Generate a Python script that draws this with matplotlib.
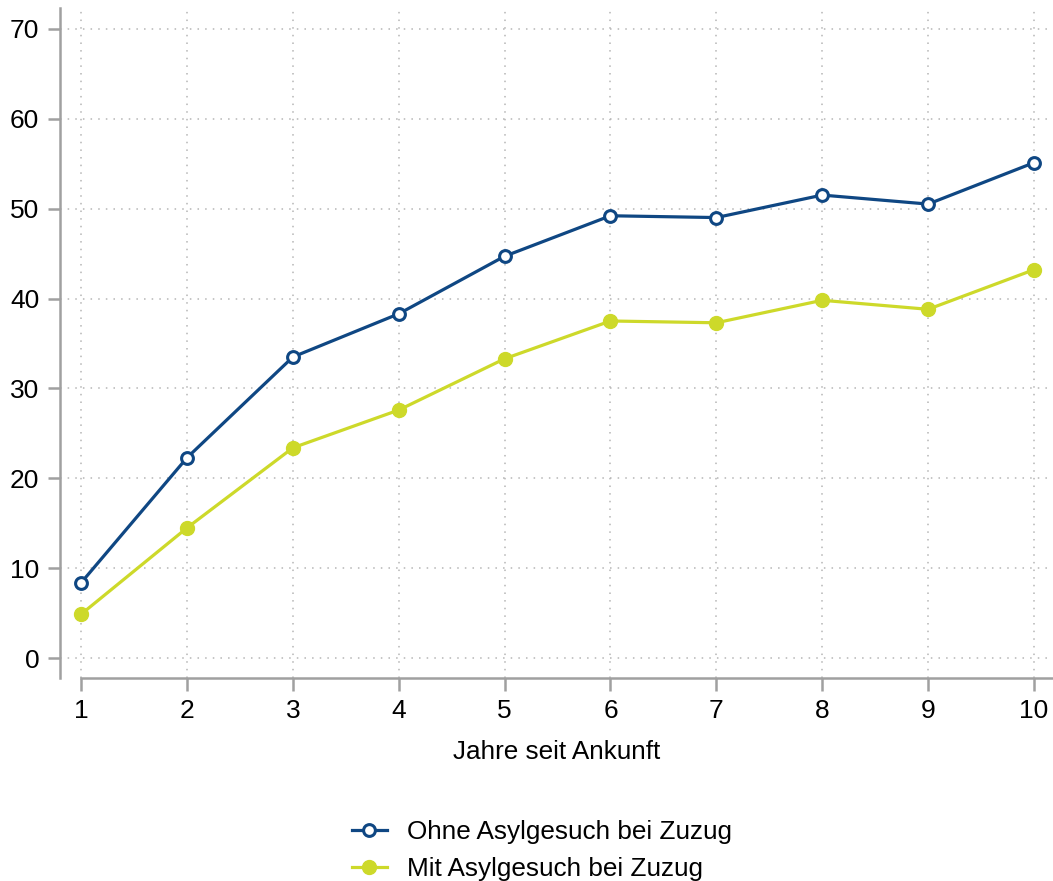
import matplotlib.pyplot as plt

plt.rcParams["font.family"] = ["Liberation Sans", "DejaVu Sans"]

years = [1, 2, 3, 4, 5, 6, 7, 8, 9, 10]
ohne_asyl = [8.4, 22.3, 33.5, 38.3, 44.7, 49.2, 49.0, 51.5, 50.5, 55.1]
mit_asyl = [4.9, 14.5, 23.4, 27.6, 33.3, 37.5, 37.3, 39.8, 38.8, 43.2]
yticks = [0, 10, 20, 30, 40, 50, 60, 70]

blue = "#0f4783"
green = "#cdd92a"
grey = "#a0a0a0"

fig = plt.figure(figsize=(10.53, 8.81), dpi=100)
ax = fig.add_axes([0.057, 0.2304, 0.943, 0.7605])

ax.plot(years, ohne_asyl, color=blue, lw=2.3, marker="o", ms=8.5,
        mfc="white", mec=blue, mew=2.2, label="Ohne Asylgesuch bei Zuzug", zorder=4)
ax.plot(years, mit_asyl, color=green, lw=2.3, marker="o", ms=10,
        mfc=green, mec=green, label="Mit Asylgesuch bei Zuzug", zorder=3)

ax.set_xlim(0.8, 10.18)
ax.set_ylim(-2.2, 72.3)
ax.set_xticks(years)
ax.set_yticks(yticks)
ax.grid(True, color="#b5b5b5", linestyle=(0, (1, 4)), linewidth=1.1)

for side in ["top", "right"]:
    ax.spines[side].set_visible(False)
for side in ["left", "bottom"]:
    ax.spines[side].set_color(grey)
    ax.spines[side].set_linewidth(1.8)
ax.spines["bottom"].set_bounds(1, 10.18)
ax.tick_params(axis="both", colors=grey, length=9, width=1.8, labelcolor="black",
               labelsize=19, pad=6)

ax.set_xlabel("Jahre seit Ankunft", fontsize=18.8, labelpad=12)

fig.legend(loc="upper left", bbox_to_anchor=(0.334, 0.069), ncol=1, frameon=False,
           fontsize=18.8, handlelength=1.35, handletextpad=0.75, labelspacing=0.5,
           borderaxespad=0, borderpad=0)

fig.savefig("out.png", dpi=100)
